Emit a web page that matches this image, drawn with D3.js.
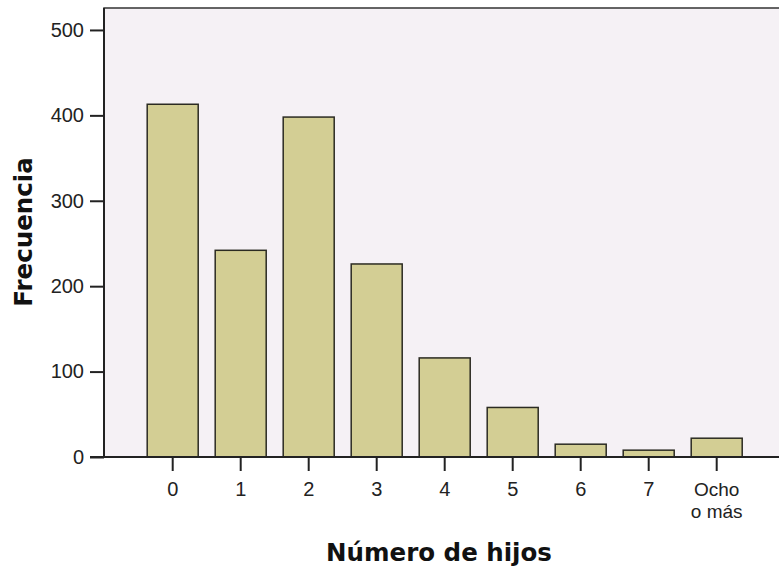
<!DOCTYPE html>
<html>
<head>
<meta charset="utf-8">
<script src="https://cdn.jsdelivr.net/npm/d3@7"></script>
<style>
  body { margin: 0; background: #fff; }
  svg { display: block; }
</style>
</head>
<body>
<div id="chart"></div>
<script>
/* DATA */
const categories = ["0", "1", "2", "3", "4", "5", "6", "7", "Ocho o más"];
const frecuencia = [413, 242, 398, 226, 116, 58, 15, 8, 22];
const yTicks = [0, 100, 200, 300, 400, 500];

const width = 779,
  height = 570,
  plot = { left: 104, top: 8, right: 790, bottom: 457 };

const svg = d3.select("#chart")
  .append("svg")
  .attr("width", width)
  .attr("height", height)

// SCALES
const xScale = d3.scaleBand()
  .domain(categories)
  .range([138.7, 750.7])
  .paddingInner(0.25)
  .paddingOuter(0.125)

const yScale = d3.scaleLinear()
  .domain([0, 525.7])
  .range([plot.bottom, plot.top])

// plot background
svg.append("rect")
  .attr("x", plot.left)
  .attr("y", plot.top)
  .attr("width", plot.right - plot.left)
  .attr("height", plot.bottom - plot.top)
  .attr("fill", "#f5f1f5")
  .attr("stroke", "#333")
  .attr("stroke-width", 1.5)

// BARS
svg.selectAll("rect.bar")
  .data(frecuencia)
  .join("rect")
  .attr("class", "bar")
  .attr("x", (d, i) => xScale(categories[i]))
  .attr("y", d => yScale(d))
  .attr("width", xScale.bandwidth())
  .attr("height", d => yScale(0) - yScale(d))
  .attr("fill", "#d3ce94")
  .attr("stroke", "#2b2b22")
  .attr("stroke-width", 1.5)

// AXES
const yAxis = d3.axisLeft(yScale)
  .tickValues(yTicks)
  .tickSize(14)
  .tickPadding(6)

const xAxis = d3.axisBottom(xScale)
  .tickSize(14)
  .tickPadding(11)
  .tickFormat(d => d === "Ocho o más" ? "" : d)

const yAxisGroup = svg.append("g")
  .attr("transform", `translate(${plot.left}, 0)`)
  .call(yAxis)

yAxisGroup.select(".domain")
  .attr("d", `M0,${plot.top}V${plot.bottom}`)

const xAxisGroup = svg.append("g")
  .attr("transform", `translate(0, ${plot.bottom})`)
  .call(xAxis)

xAxisGroup.select(".domain")
  .attr("d", `M${plot.left - 14},0H${width}`)

svg.selectAll(".tick line, .domain")
  .attr("stroke", "#222")
  .attr("stroke-width", 2)

svg.selectAll(".tick text")
  .attr("font-family", "Liberation Sans, Arial, sans-serif")
  .attr("font-size", 20)
  .attr("fill", "#222")

// two-line label for the last category (two separate lines)
const lastX = xScale("Ocho o más") + xScale.bandwidth() / 2;
["Ocho", "o más"].forEach((line, i) => {
  xAxisGroup.append("text")
    .attr("x", lastX)
    .attr("y", 39 + i * 21.5)
    .attr("text-anchor", "middle")
    .attr("font-family", "Liberation Sans, Arial, sans-serif")
    .attr("font-size", 19)
    .attr("fill", "#222")
    .text(line)
})

// axis titles
svg.append("text")
  .attr("x", 439)
  .attr("y", 561)
  .attr("text-anchor", "middle")
  .attr("font-family", "DejaVu Sans, Verdana, sans-serif")
  .attr("font-weight", "bold")
  .attr("font-size", 24.5)
  .attr("fill", "#111")
  .text("Número de hijos")

svg.append("text")
  .attr("transform", `translate(${32}, ${232})rotate(-90)`)
  .attr("text-anchor", "middle")
  .attr("font-family", "DejaVu Sans, Verdana, sans-serif")
  .attr("font-weight", "bold")
  .attr("font-size", 24.5)
  .attr("fill", "#111")
  .text("Frecuencia")
</script>
</body>
</html>
